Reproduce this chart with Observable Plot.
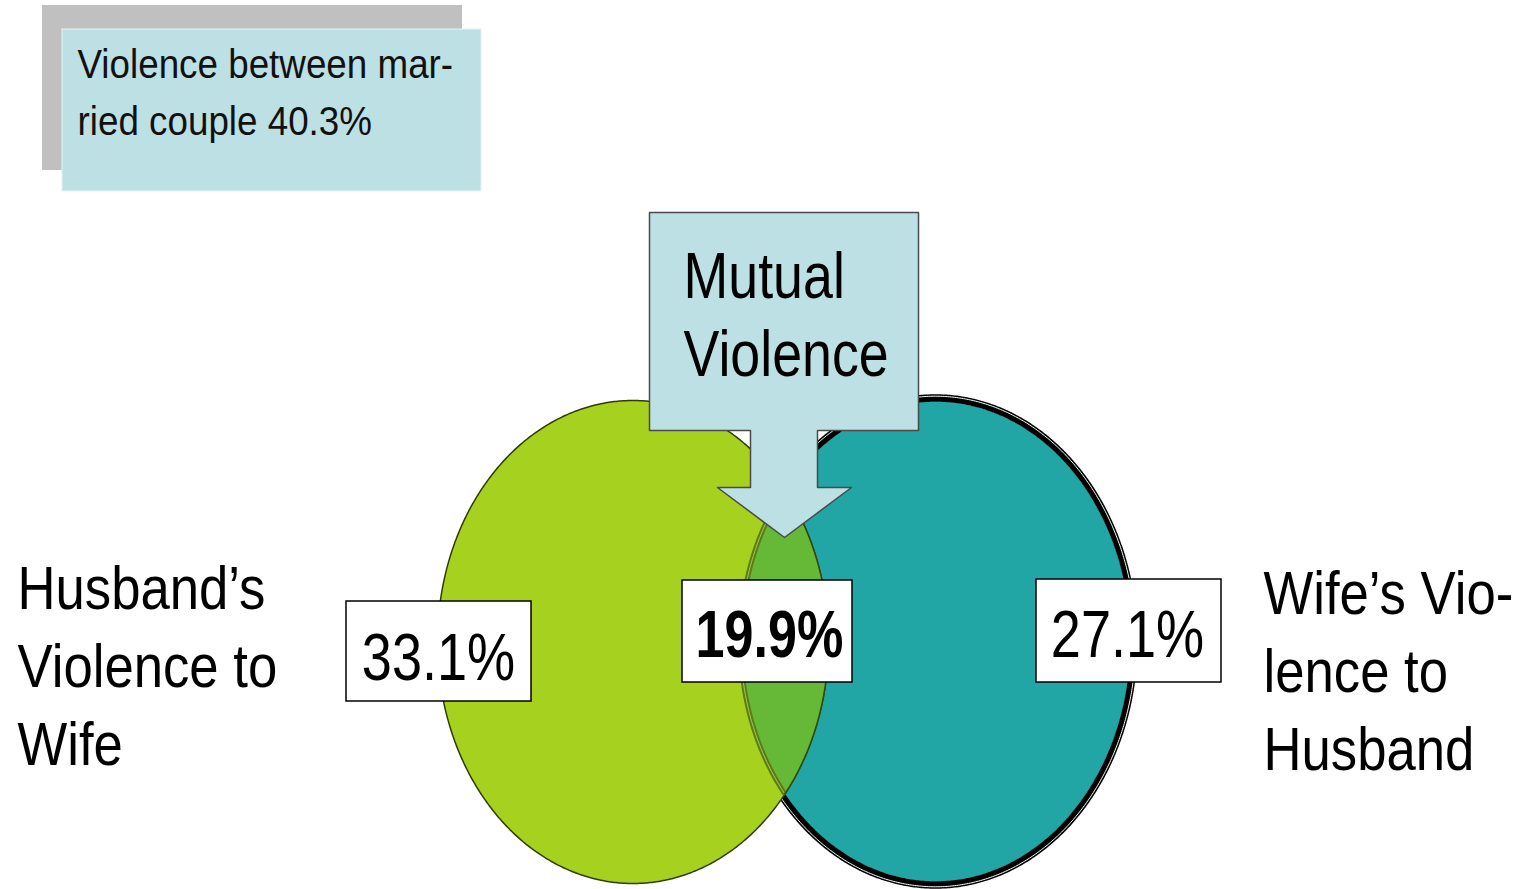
<!DOCTYPE html>
<html><head><meta charset="utf-8">
<script src="https://cdn.jsdelivr.net/npm/d3@7"></script>
<script src="https://cdn.jsdelivr.net/npm/@observablehq/plot@0.6"></script>
<style>body{margin:0;background:#fff}#chart svg{display:block}</style>
</head><body><div id="chart"></div>
<script>
// ---- data ----
const setNames = ["Husband’s Violence to Wife", "Wife’s Violence to Husband"];
const setLabelLines = [["Husband’s", "Violence to", "Wife"], ["Wife’s Vio-", "lence to", "Husband"]];
const regionNames = ["Husband only", "Mutual", "Wife only"];
const regionValues = [33.1, 19.9, 27.1];
const overlapTitleLines = ["Mutual", "Violence"];
const totalTitleLines = ["Violence between mar-", "ried couple"];
const totalValue = 40.3;

// ---- layout (positions / sizes / styles) ----
const W = 1519, H = 889;
const FONT = "'Liberation Sans', Arial, sans-serif";
const green = {cx: 632.5, cy: 641.5, rx: 195.5, ry: 241.5};
const teal = {cx: 935, cy: 641, rx: 195, ry: 240};
const colors = {green: "#a7d11f", teal: "#21a5a5", lens: "#66b936", box: "#bce0e3", shadow: "#c0c0c0"};
const totalBox = {shadow: {x1: 42, x2: 462, y1: 5, y2: 170}, box: {x1: 62, x2: 481, y1: 29, y2: 191}, tx: 77, ty: 77, step: 57, size: 40, sx: 0.92};
const callout = {x1: 649, x2: 918, y1: 212, y2: 430, sL: 750, sR: 817, headY: 487, hL: 717, hR: 851, tipX: 784, tipY: 537, tx: 683, ty: 297, step: 78, size: 64, sx: 0.84};
const setLabelPos = [{x: 17, y: 608}, {x: 1263, y: 613}];
const setLabelStep = 78, setLabelSize = 62, setLabelSx = 0.85;
const valueBoxes = [
  {x1: 346, x2: 531, y1: 601, y2: 701, tx: 438, ty: 679, bold: false},
  {x1: 682, x2: 852, y1: 580, y2: 682, tx: 769, ty: 656, bold: true},
  {x1: 1036, x2: 1221, y1: 579, y2: 682, tx: 1127, ty: 656, bold: false}
];
const valueSize = 66, valueSx = 0.82, valueBoldSx = 0.79;

// ---- geometry helpers ----
function ellipsePts(e, dr = 0, n = 720, t0 = -Math.PI) {
  return d3.range(n).map(i => {
    const t = t0 + 2 * Math.PI * i / n;
    return {x: e.cx + (e.rx + dr) * Math.cos(t), y: e.cy + (e.ry + dr) * Math.sin(t)};
  });
}
const inside = (e, p) => ((p.x - e.cx) / e.rx) ** 2 + ((p.y - e.cy) / e.ry) ** 2 <= 1;
const greenArc = ellipsePts(green).filter(p => inside(teal, p));          // right arc of green
const tealArc = ellipsePts(teal, 0, 720, 0).filter(p => inside(green, p)); // left arc of teal
const lens = greenArc.concat(tealArc);
const c = callout;
const calloutPts = [[c.x1, c.y1], [c.x2, c.y1], [c.x2, c.y2], [c.sR, c.y2], [c.sR, c.headY], [c.hR, c.headY],
  [c.tipX, c.tipY], [c.hL, c.headY], [c.sL, c.headY], [c.sL, c.y2], [c.x1, c.y2]].map(([x, y]) => ({x, y}));

const valueData = regionNames.map((name, i) => ({name, value: regionValues[i], label: `${regionValues[i]}%`, ...valueBoxes[i]}));
const setLabelData = setLabelLines.flatMap((lines, k) => lines.map((t, i) => ({t, x: setLabelPos[k].x, y: setLabelPos[k].y + i * setLabelStep})));
const totalLines = [totalTitleLines[0], `${totalTitleLines[1]} ${totalValue}%`];
const totalData = totalLines.map((t, i) => ({t, x: totalBox.tx, y: totalBox.ty + i * totalBox.step}));
const calloutData = overlapTitleLines.map((t, i) => ({t, x: c.tx, y: c.ty + i * c.step}));

// horizontal condensing per text (to mimic the narrow original typeface)
const condense = new Map();
totalData.forEach(d => condense.set(d.t, totalBox.sx));
calloutData.forEach(d => condense.set(d.t, c.sx));
setLabelData.forEach(d => condense.set(d.t, setLabelSx));
valueData.forEach(d => condense.set(d.label, d.bold ? valueBoldSx : valueSx));

const chart = Plot.plot({
  width: W, height: H, margin: 0,
  x: {domain: [0, W], range: [0, W], axis: null},
  y: {domain: [0, H], range: [0, H], axis: null},
  marks: [
    // total box
    Plot.rect([totalBox.shadow], {x1: "x1", x2: "x2", y1: "y1", y2: "y2", fill: colors.shadow}),
    Plot.rect([totalBox.box], {x1: "x1", x2: "x2", y1: "y1", y2: "y2", fill: colors.box, stroke: "#e6f2f3", strokeWidth: 1}),
    Plot.text(totalData, {x: "x", y: "y", text: "t", textAnchor: "start", lineAnchor: "bottom", fontSize: totalBox.size, fontFamily: FONT, fill: "#111"}),
    // teal set
    Plot.line(ellipsePts(teal), {x: "x", y: "y", curve: "linear-closed", fill: colors.teal, stroke: "none"}),
    Plot.line(ellipsePts(teal, 3.5), {x: "x", y: "y", curve: "linear-closed", stroke: "#000", strokeWidth: 7.5}),
    Plot.line(ellipsePts(teal, 5.3), {x: "x", y: "y", curve: "linear-closed", stroke: "#fff", strokeWidth: 1}),
    // green set
    Plot.line(ellipsePts(green), {x: "x", y: "y", curve: "linear-closed", fill: colors.green, stroke: "#2f3d05", strokeWidth: 1.5}),
    // overlap
    Plot.line(lens, {x: "x", y: "y", curve: "linear-closed", fill: colors.lens, stroke: "none"}),
    Plot.line(tealArc, {x: "x", y: "y", stroke: "#5a7d14", strokeWidth: 5}),
    Plot.line(tealArc, {x: "x", y: "y", stroke: "#a9c85a", strokeWidth: 1}),
    Plot.line(greenArc, {x: "x", y: "y", stroke: "#2f4a10", strokeWidth: 1.5}),
    // callout
    Plot.line(calloutPts, {x: "x", y: "y", curve: "linear-closed", fill: colors.box, stroke: "#4a4a4a", strokeWidth: 1.5}),
    Plot.text(calloutData, {x: "x", y: "y", text: "t", textAnchor: "start", lineAnchor: "bottom", fontSize: c.size, fontFamily: FONT, fill: "#000"}),
    // set labels
    Plot.text(setLabelData, {x: "x", y: "y", text: "t", textAnchor: "start", lineAnchor: "bottom", fontSize: setLabelSize, fontFamily: FONT, fill: "#000"}),
    // value boxes
    Plot.rect(valueData, {x1: "x1", x2: "x2", y1: "y1", y2: "y2", fill: "#fff", stroke: "#000", strokeWidth: 1.5}),
    Plot.text(valueData.filter(d => !d.bold), {x: "tx", y: "ty", text: "label", textAnchor: "middle", lineAnchor: "bottom", fontSize: valueSize, fontFamily: FONT, fill: "#000"}),
    Plot.text(valueData.filter(d => d.bold), {x: "tx", y: "ty", text: "label", textAnchor: "middle", lineAnchor: "bottom", fontSize: valueSize, fontFamily: FONT, fontWeight: "bold", fill: "#000"})
  ]
});

d3.select(chart).selectAll("text").each(function () {
  const s = condense.get(this.textContent);
  if (!s) return;
  if (this.hasAttribute("x") || this.hasAttribute("y")) {
    const x = +this.getAttribute("x") || 0, y = +this.getAttribute("y") || 0;
    const t = this.getAttribute("transform") || "";
    this.setAttribute("transform", `${t} translate(${x},${y}) scale(${s},1) translate(${-x},${-y})`);
  } else {
    this.setAttribute("transform", `${this.getAttribute("transform") || ""} scale(${s},1)`);
  }
});
document.getElementById("chart").appendChild(chart);
</script>
</body></html>
